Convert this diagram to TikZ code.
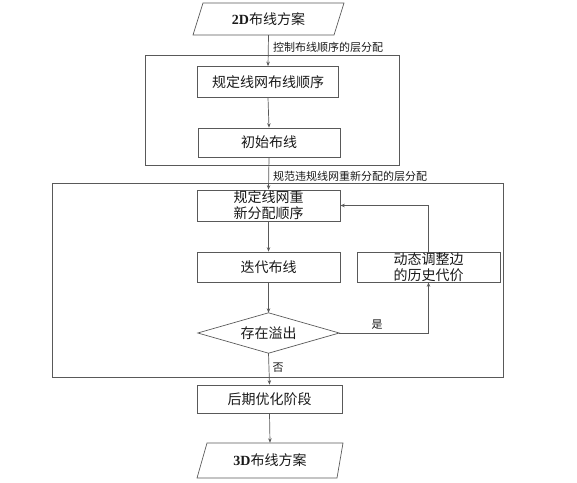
\documentclass[tikz,border=0pt]{standalone}
\usepackage{fontspec}
\setmainfont{Liberation Serif}
\newfontfamily\cjk{Noto Sans CJK SC}
\usetikzlibrary{arrows.meta}
\begin{document}
\begin{tikzpicture}[x=1pt,y=-1pt,
  line/.style={draw=black!65, line width=0.7pt},
  arr/.style={line, -{Stealth[length=4.5pt,width=3.5pt]}},
  box/.style={line, rectangle, inner sep=0pt, align=center, font=\fontsize{14}{16}\selectfont\cjk, text=black!90},
  lab/.style={inner sep=0pt, font=\fontsize{11}{13}\selectfont\cjk, text=black!90},
  plain/.style={inner sep=0pt, align=center, font=\fontsize{14}{16}\selectfont\cjk, text=black!90}]
\useasboundingbox (0,0) rectangle (577,482);
% outer frames
\node[line, minimum width=254, minimum height=110, inner sep=0pt] (outer1) at (272,110) {};
\node[line, minimum width=451, minimum height=194, inner sep=0pt] (outer2) at (277.5,280) {};
% top parallelogram
\draw[line] (203,3) -- (344,3) -- (334,35) -- (193,35) -- cycle;
\node[plain, minimum width=130, minimum height=32] (p1) at (268.5,19) {{\rmfamily\bfseries 2D}布线方案};
% boxes
\node[box, minimum width=141, minimum height=31] (a) at (268,82) {规定线网布线顺序};
\node[box, minimum width=142, minimum height=29] (b) at (269,142.5) {初始布线};
\node[box, minimum width=143, minimum height=31] (c) at (268.5,205.5) {规定线网重\\新分配顺序};
\node[box, minimum width=143, minimum height=30] (d) at (268.5,267) {迭代布线};
\node[box, minimum width=143, minimum height=30] (e) at (428.5,267) {动态调整边\\的历史代价};
% diamond
\node[plain, minimum width=141, minimum height=40] (f) at (268.5,333) {存在溢出};
\draw[line] (f.west) -- (f.north) -- (f.east) -- (f.south) -- cycle;
\node[box, minimum width=145, minimum height=28] (g) at (269.5,399) {后期优化阶段};
% bottom parallelogram
\draw[line] (207,443) -- (343,443) -- (337,478) -- (197,478) -- cycle;
\node[plain, minimum width=130, minimum height=35] (p2) at (270,460.5) {{\rmfamily\bfseries 3D}布线方案};
% connectors
\draw[arr] (p1.south) -- (a.north);
\node[lab, anchor=west] (l1) at (273,47) {控制布线顺序的层分配};
\draw[arr] (a.south) -- (b.north);
\draw[arr] (b.south) -- (c.north);
\node[lab, anchor=west] (l2) at (273,176) {规范违规线网重新分配的层分配};
\draw[arr] (c.south) -- (d.north);
\draw[arr] (d.south) -- (f.north);
\draw[arr] (f.east) -| (e.south);
\node[lab] (yes) at (377,325) {是};
\draw[arr] (e.north) |- (c.east);
\draw[arr] (f.south) -- (g.north);
\node[lab] (no) at (278,368) {否};
\draw[arr] (g.south) -- (p2.north);
\end{tikzpicture}
\end{document}
